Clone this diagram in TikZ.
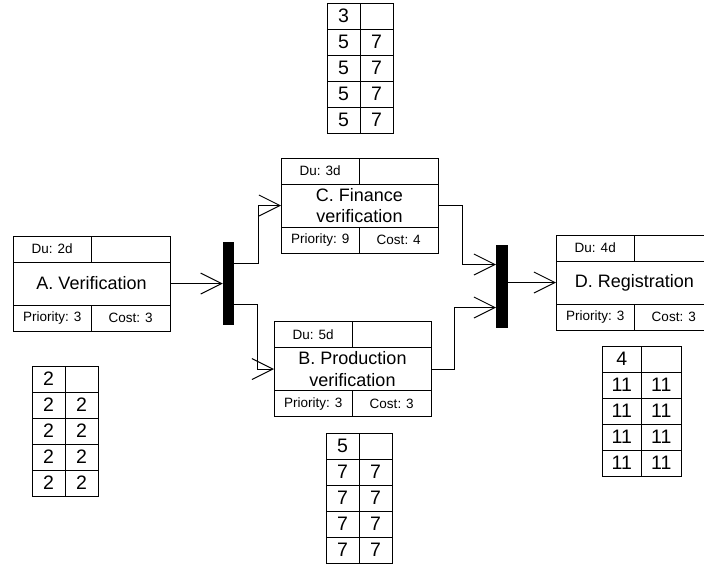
\documentclass[tikz,border=0pt]{standalone}
\usepackage{fontspec}
\setmainfont{Liberation Sans}
\usetikzlibrary{arrows.meta,positioning}

\begin{document}
\begin{tikzpicture}[
    x=1pt, y=-1pt,
    line width=1pt,
    box/.style={draw, outer sep=0pt, minimum width=157pt, minimum height=43pt, inner sep=0pt, align=center, font=\fontsize{18}{21.6}\selectfont},
    cell/.style={draw, outer sep=0pt, minimum width=78.5pt, minimum height=26pt, inner sep=0pt, font=\fontsize{13.5}{16}\selectfont},
    num/.style={draw, outer sep=0pt, minimum width=33pt, minimum height=26pt, inner sep=0pt, font=\fontsize{19.5}{22}\selectfont},
    bar/.style={fill=black, outer sep=0pt, minimum width=11.5pt, minimum height=83pt, inner sep=0pt},
    arr/.style={-{Straight Barb[length=21pt, width=21pt]}},
]
\useasboundingbox (0,0) rectangle (704,566);
\clip (0,0) rectangle (704,566);

% Task A
\node[box, anchor=north west] (A) at (13, 262) {A. Verification};
\node[cell, anchor=south west] (A-du) at (A.north west) {Du: 2d};
\node[cell, anchor=south east] (A-du2) at (A.north east) {};
\node[cell, anchor=north west] (A-pri) at (A.south west) {Priority: 3};
\node[cell, anchor=north east] (A-cost) at (A.south east) {Cost: 3};

% Task C
\node[box, anchor=north west] (C) at (281, 184) {C. Finance\\verification};
\node[cell, anchor=south west] (C-du) at (C.north west) {Du: 3d};
\node[cell, anchor=south east] (C-du2) at (C.north east) {};
\node[cell, anchor=north west] (C-pri) at (C.south west) {Priority: 9};
\node[cell, anchor=north east] (C-cost) at (C.south east) {Cost: 4};

% Task B
\node[box, anchor=north west] (B) at (274, 347.5) {B. Production\\verification};
\node[cell, anchor=south west] (B-du) at (B.north west) {Du: 5d};
\node[cell, anchor=south east] (B-du2) at (B.north east) {};
\node[cell, anchor=north west] (B-pri) at (B.south west) {Priority: 3};
\node[cell, anchor=north east] (B-cost) at (B.south east) {Cost: 3};

% Task D
\node[box, anchor=north west] (D) at (556, 261) {D. Registration};
\node[cell, anchor=south west] (D-du) at (D.north west) {Du: 4d};
\node[cell, anchor=south east] (D-du2) at (D.north east) {};
\node[cell, anchor=north west] (D-pri) at (D.south west) {Priority: 3};
\node[cell, anchor=north east] (D-cost) at (D.south east) {Cost: 3};

% Fork and join bars
\node[bar] (fork) at (228.5, 283.5) {};
\node[bar, minimum width=12pt] (join) at (502, 286) {};

% Connectors
\draw[arr] (A.east) -- (A.east -| fork.west);
\draw[arr] ([yshift=20.5pt]fork.east) -- ++(24,0) |- (C.west);
\draw[arr] ([yshift=-20.5pt]fork.east) -- ++(23,0) |- (B.west);
\draw[arr] (C.east) -- ++(24,0) |- ([yshift=21.5pt]join.west);
\draw[arr] (B.east) -- ++(23,0) |- ([yshift=-21.5pt]join.west);
\draw[arr] (join.east |- D.west) -- (D.west);

% Table of C
\node[num, anchor=north west] (tc1) at (327, 3) {3};
\node[num, right=0pt of tc1] (tc1r) {};
\node[num, below=0pt of tc1] (tc2) {5};
\node[num, right=0pt of tc2] (tc2r) {7};
\node[num, below=0pt of tc2] (tc3) {5};
\node[num, right=0pt of tc3] (tc3r) {7};
\node[num, below=0pt of tc3] (tc4) {5};
\node[num, right=0pt of tc4] (tc4r) {7};
\node[num, below=0pt of tc4] (tc5) {5};
\node[num, right=0pt of tc5] (tc5r) {7};

% Table of A
\node[num, anchor=north west] (ta1) at (32, 366) {2};
\node[num, right=0pt of ta1] (ta1r) {};
\node[num, below=0pt of ta1] (ta2) {2};
\node[num, right=0pt of ta2] (ta2r) {2};
\node[num, below=0pt of ta2] (ta3) {2};
\node[num, right=0pt of ta3] (ta3r) {2};
\node[num, below=0pt of ta3] (ta4) {2};
\node[num, right=0pt of ta4] (ta4r) {2};
\node[num, below=0pt of ta4] (ta5) {2};
\node[num, right=0pt of ta5] (ta5r) {2};

% Table of B
\node[num, anchor=north west] (tb1) at (326, 433) {5};
\node[num, right=0pt of tb1] (tb1r) {};
\node[num, below=0pt of tb1] (tb2) {7};
\node[num, right=0pt of tb2] (tb2r) {7};
\node[num, below=0pt of tb2] (tb3) {7};
\node[num, right=0pt of tb3] (tb3r) {7};
\node[num, below=0pt of tb3] (tb4) {7};
\node[num, right=0pt of tb4] (tb4r) {7};
\node[num, below=0pt of tb4] (tb5) {7};
\node[num, right=0pt of tb5] (tb5r) {7};

% Table of D
\begin{scope}[num/.append style={minimum width=39.5pt}]
\node[num, anchor=north west] (td1) at (602, 346) {4};
\node[num, right=0pt of td1] (td1r) {};
\node[num, below=0pt of td1] (td2) {11};
\node[num, right=0pt of td2] (td2r) {11};
\node[num, below=0pt of td2] (td3) {11};
\node[num, right=0pt of td3] (td3r) {11};
\node[num, below=0pt of td3] (td4) {11};
\node[num, right=0pt of td4] (td4r) {11};
\node[num, below=0pt of td4] (td5) {11};
\node[num, right=0pt of td5] (td5r) {11};
\end{scope}

\end{tikzpicture}
\end{document}
